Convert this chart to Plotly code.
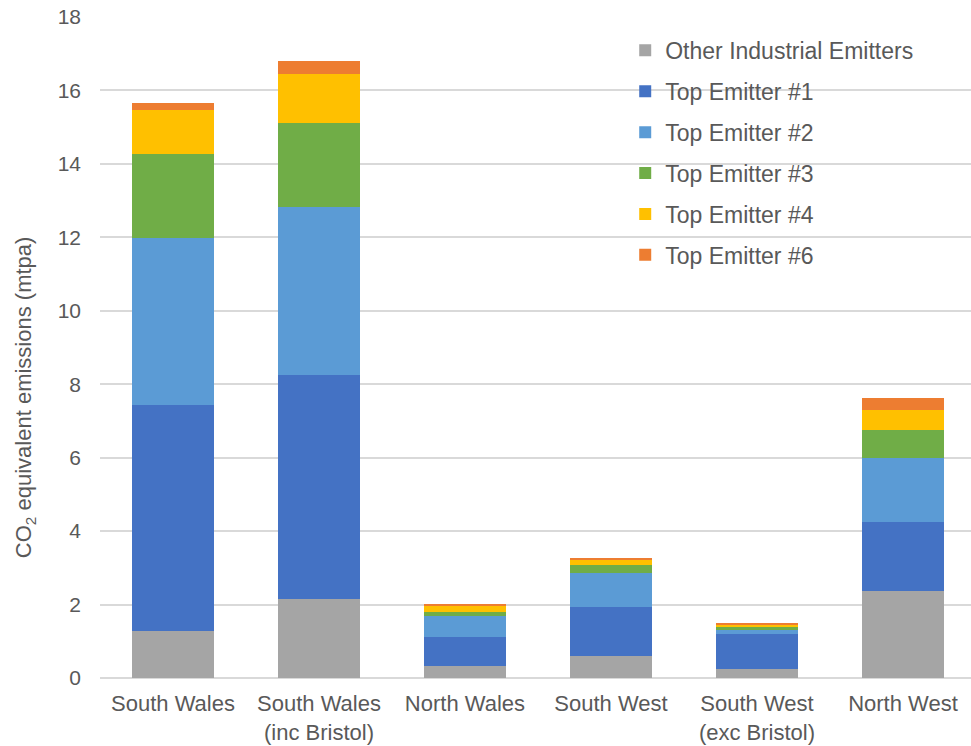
import plotly.graph_objects as go

# Regions (x-axis categories)
regions = [
    "South Wales",
    "South Wales<br>(inc Bristol)",
    "North Wales",
    "South West",
    "South West<br>(exc Bristol)",
    "North West",
]

# CO2-equivalent emissions by source, mtpa
other_industrial = [1.29, 2.15, 0.34, 0.60, 0.25, 2.38]
top_emitter_1 = [6.15, 6.10, 0.79, 1.32, 0.95, 1.88]
top_emitter_2 = [4.53, 4.58, 0.55, 0.94, 0.11, 1.73]
top_emitter_3 = [2.31, 2.28, 0.12, 0.23, 0.09, 0.77]
top_emitter_4 = [1.19, 1.33, 0.18, 0.15, 0.06, 0.54]
top_emitter_6 = [0.19, 0.35, 0.03, 0.04, 0.04, 0.32]

series = [
    ("Other Industrial Emitters", other_industrial, "#A5A5A5"),
    ("Top Emitter #1", top_emitter_1, "#4472C4"),
    ("Top Emitter #2", top_emitter_2, "#5B9BD5"),
    ("Top Emitter #3", top_emitter_3, "#70AD47"),
    ("Top Emitter #4", top_emitter_4, "#FFC000"),
    ("Top Emitter #6", top_emitter_6, "#ED7D31"),
]

font_family = "Liberation Sans, Arial, sans-serif"
text_grey = "#595959"

fig = go.Figure()
for i, (name, values, color) in enumerate(series):
    fig.add_trace(go.Bar(
        x=list(range(len(regions))),
        y=values,
        name=name,
        legendgroup=f"g{i}",
        marker=dict(color=color, line=dict(width=0)),
    ))

# Rotated y-axis title, placed as an annotation so it can sit slightly low
fig.add_annotation(
    text="CO<sub>2</sub> equivalent emissions (mtpa)",
    xref="paper", yref="paper",
    x=-0.086, y=0.425,
    xanchor="center", yanchor="middle",
    textangle=-90,
    showarrow=False,
    font=dict(family=font_family, size=22, color=text_grey),
)

fig.update_layout(
    barmode="stack",
    bargap=0.44,
    width=971,
    height=746,
    margin=dict(l=100, r=0, t=17, b=68),
    paper_bgcolor="white",
    plot_bgcolor="white",
    font=dict(family=font_family, size=22, color=text_grey),
    showlegend=True,
    legend=dict(
        x=0.603, y=0.982, xanchor="left", yanchor="top",
        traceorder="grouped",
        tracegroupgap=8,
        font=dict(size=23, color=text_grey),
        itemwidth=30,
        bgcolor="rgba(0,0,0,0)",
    ),
    xaxis=dict(
        tickmode="array",
        tickvals=list(range(len(regions))),
        ticktext=regions,
        range=[-0.5, 5.466],
        showgrid=False,
        showline=False,
        ticks="",
        automargin=False,
        ticklabelstandoff=10,
        tickfont=dict(size=22, color=text_grey),
    ),
    yaxis=dict(
        range=[0, 18],
        dtick=2,
        showgrid=True,
        gridcolor="#D9D9D9",
        gridwidth=1.5,
        zeroline=True,
        zerolinecolor="#D9D9D9",
        zerolinewidth=1.5,
        ticks="",
        automargin=False,
        ticklabelstandoff=18,
        tickfont=dict(size=21, color=text_grey),
    ),
)

fig.write_html("out.html")
